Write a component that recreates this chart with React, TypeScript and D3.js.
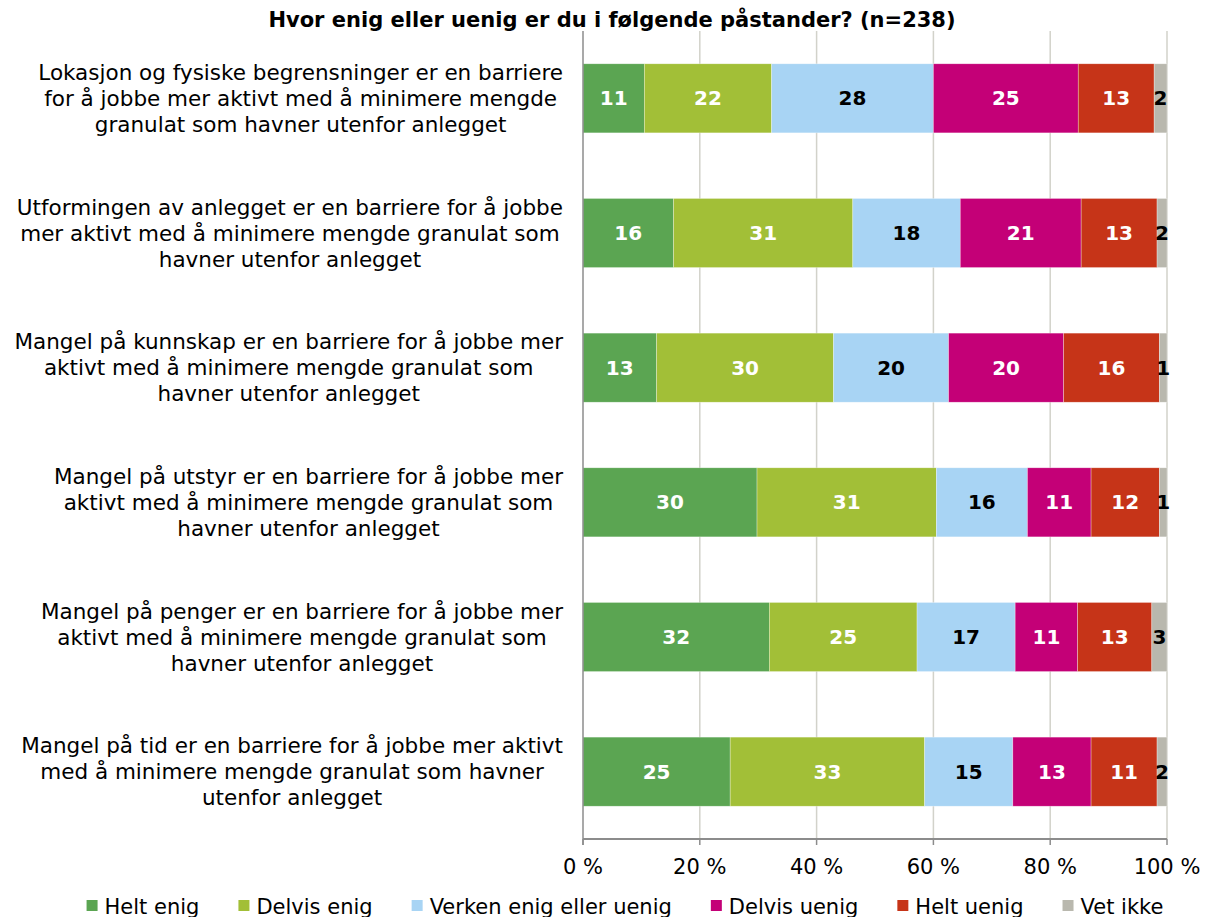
import React, { useEffect, useRef } from "react";
import * as d3 from "d3";

const title = "Hvor enig eller uenig er du i følgende påstander? (n=238)";

const categoryLines: string[][] = [
  ["Lokasjon og fysiske begrensninger er en barriere", "for å jobbe mer aktivt med å minimere mengde", "granulat som havner utenfor anlegget"],
  ["Utformingen av anlegget er en barriere for å jobbe", "mer aktivt med å minimere mengde granulat som", "havner utenfor anlegget"],
  ["Mangel på kunnskap er en barriere for å jobbe mer", "aktivt med å minimere mengde granulat som", "havner utenfor anlegget"],
  ["Mangel på utstyr er en barriere for å jobbe mer", "aktivt med å minimere mengde granulat som", "havner utenfor anlegget"],
  ["Mangel på penger er en barriere for å jobbe mer", "aktivt med å minimere mengde granulat som", "havner utenfor anlegget"],
  ["Mangel på tid er en barriere for å jobbe mer aktivt", "med å minimere mengde granulat som havner", "utenfor anlegget"],
];

const seriesNames = ["Helt enig", "Delvis enig", "Verken enig eller uenig", "Delvis uenig", "Helt uenig", "Vet ikke"];
const seriesColors = ["#5BA552", "#A2BF37", "#A8D4F4", "#C40077", "#C63418", "#B9B8AE"];
const labelColors = ["#ffffff", "#ffffff", "#000000", "#ffffff", "#ffffff", "#000000"];

const heltEnig = [10.5, 15.5, 12.6, 29.8, 31.9, 25.2];
const delvisEnig = [21.8, 30.7, 30.3, 30.7, 25.3, 33.3];
const verken = [27.7, 18.4, 19.7, 15.6, 16.8, 15.1];
const delvisUenig = [24.8, 20.7, 19.7, 10.9, 10.7, 13.4];
const heltUenig = [13.0, 13.0, 16.4, 11.7, 12.7, 11.3];
const vetIkke = [2.2, 1.7, 1.3, 1.3, 2.6, 1.7];

const tickValues = [0, 20, 40, 60, 80, 100];

const FONT = "Verdana, 'DejaVu Sans', sans-serif";

export default function App() {
  const ref = useRef<SVGSVGElement | null>(null);

  useEffect(() => {
    const svg = d3.select(ref.current);
    svg.selectAll("*").remove();

    const W = 1211, H = 917;
    const left = 583, right = 1167, top = 31, bottom = 839;

    const x = d3.scaleLinear().domain([0, 100]).range([left, right]);
    const idx = categoryLines.map((_, i) => String(i));
    const y = d3.scaleBand().domain(idx).range([top, bottom]).paddingInner(0.487).paddingOuter(0.2435);

    svg.append("rect").attr("width", W).attr("height", H).attr("fill", "#fff");

    // title
    svg.append("text").attr("x", 612).attr("y", 27).attr("text-anchor", "middle")
      .attr("font-family", FONT).attr("font-weight", "bold").attr("font-size", 21).attr("fill", "#000")
      .text(title);

    // gridlines
    svg.append("g").selectAll("line").data(tickValues.slice(1)).join("line")
      .attr("x1", d => x(d)).attr("x2", d => x(d)).attr("y1", top).attr("y2", bottom)
      .attr("stroke", "#D2D2CA").attr("stroke-width", 1.5);

    // stacked data
    const series = [heltEnig, delvisEnig, verken, delvisUenig, heltUenig, vetIkke];
    const table = idx.map((k, i) => {
      const row: any = { key: k };
      seriesNames.forEach((s, j) => { row[s] = series[j][i]; });
      return row;
    });
    const stack = d3.stack<any>().keys(seriesNames)(table);

    const gBars = svg.append("g");
    stack.forEach((layer, j) => {
      gBars.append("g").selectAll("rect").data(layer).join("rect")
        .attr("x", d => x(d[0]))
        .attr("y", d => y(d.data.key)!)
        .attr("width", d => x(d[1]) - x(d[0]))
        .attr("height", y.bandwidth())
        .attr("fill", seriesColors[j])
        .attr("stroke", "rgba(255,255,255,0.5)")
        .attr("stroke-width", 0.6);
    });

    // value labels
    stack.forEach((layer, j) => {
      gBars.append("g").selectAll("text").data(layer).join("text")
        .attr("x", d => (x(d[0]) + x(d[1])) / 2)
        .attr("y", d => y(d.data.key)! + y.bandwidth() / 2 + 7)
        .attr("text-anchor", "middle")
        .attr("font-family", FONT).attr("font-weight", "bold").attr("font-size", 20)
        .attr("fill", labelColors[j])
        .text(d => String(Math.round(d[1] - d[0])));
    });

    // axes lines
    svg.append("line").attr("x1", left).attr("x2", left).attr("y1", top).attr("y2", bottom + 6)
      .attr("stroke", "#8C8C8C").attr("stroke-width", 1.5);
    svg.append("line").attr("x1", left).attr("x2", right).attr("y1", bottom).attr("y2", bottom)
      .attr("stroke", "#8C8C8C").attr("stroke-width", 2);
    svg.append("g").selectAll("line").data(tickValues).join("line")
      .attr("x1", d => x(d)).attr("x2", d => x(d)).attr("y1", bottom).attr("y2", bottom + 6)
      .attr("stroke", "#8C8C8C").attr("stroke-width", 1.5);
    svg.append("g").selectAll("text").data(tickValues).join("text")
      .attr("x", d => x(d)).attr("y", 874).attr("text-anchor", "middle")
      .attr("font-family", FONT).attr("font-size", 21).attr("fill", "#000")
      .text(d => `${d} %`);

    // category labels: block right-aligned at 563, lines centered within block
    const blockRight = 563;
    categoryLines.forEach((lines, i) => {
      const cy = y(String(i))! + y.bandwidth() / 2;
      const g = svg.append("g");
      const texts = g.selectAll("text").data(lines).join("text")
        .attr("y", (_, k) => cy + (k - (lines.length - 1) / 2) * 26 + 7.5)
        .attr("text-anchor", "middle")
        .attr("font-family", FONT).attr("font-size", 21.5).attr("fill", "#000")
        .text(d => d);
      let maxW = 0;
      texts.each(function () {
        const w = (this as SVGTextElement).getComputedTextLength();
        if (w > maxW) maxW = w;
      });
      texts.attr("x", blockRight - maxW / 2);
    });

    // legend
    const lg = svg.append("g");
    const items = seriesNames.map((name, j) => {
      const g = lg.append("g");
      g.append("rect").attr("x", 0).attr("y", -6).attr("width", 11).attr("height", 11).attr("fill", seriesColors[j]);
      const t = g.append("text").attr("x", 18).attr("y", 7.5)
        .attr("font-family", FONT).attr("font-size", 21).attr("fill", "#000").text(name);
      const w = 18 + (t.node() as SVGTextElement).getComputedTextLength();
      return { g, w };
    });
    const gap = 39;
    const total = d3.sum(items, d => d.w) + gap * (items.length - 1);
    let cx = 625 - total / 2;
    items.forEach(it => {
      it.g.attr("transform", `translate(${cx},906)`);
      cx += it.w + gap;
    });
  }, []);

  return (
    <svg ref={ref} width={1211} height={917}
      style={{ position: "absolute", left: 0, top: 0, display: "block" }} />
  );
}
